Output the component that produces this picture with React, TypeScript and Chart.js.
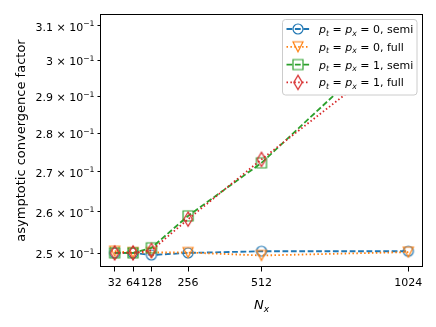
import React, { useEffect, useRef } from "react";
import { Chart, registerables } from "chart.js";

Chart.register(...registerables);

// ---------- data ----------
const nxLabels = ["32", "64", "128", "256", "512", "1024"];
const nxPositions = [0, 64, 128, 256, 512, 1024];
const semiP0 = [0.2501, 0.2501, 0.2496, 0.2501, 0.2505, 0.2505];
const fullP0 = [0.2505, 0.2502, 0.2502, 0.2502, 0.2495, 0.2503];
const semiP1 = [0.2501, 0.2501, 0.2513, 0.259, 0.2723, 0.3099];
const fullP1 = [0.2501, 0.2501, 0.2507, 0.2582, 0.2732, 0.3042];
const seriesLabels = [
  "p_t = p_x = 0, semi",
  "p_t = p_x = 0, full",
  "p_t = p_x = 1, semi",
  "p_t = p_x = 1, full",
];
const yTicks = [0.25, 0.26, 0.27, 0.28, 0.29, 0.3, 0.31];
const yTickMantissas = ["2.5", "2.6", "2.7", "2.8", "2.9", "3", "3.1"];
const yTickExponent = "−1";
const yTitle = "asymptotic convergence factor";
const xTitle = "N_x";

// ---------- styles ----------
const FONT = "'DejaVu Sans', 'Liberation Sans', sans-serif";
const colors = ["#1f77b4", "#ff7f0e", "#2ca02c", "#d62728"];
const shapes = ["circle", "triDown", "square", "thinDiamond"];
const dashes = [
  [5.8, 2.6],
  [1.5, 2.4],
  [5.8, 2.6],
  [1.5, 2.4],
];

function makeMarker(shape: string, color: string): HTMLCanvasElement {
  const c = document.createElement("canvas");
  const lw = 1.2;
  let w = 14;
  let h = 14;
  if (shape === "thinDiamond") {
    w = 12;
    h = 18;
  }
  c.width = w;
  c.height = h;
  const ctx = c.getContext("2d")!;
  ctx.strokeStyle = color;
  ctx.lineWidth = lw;
  ctx.lineJoin = "miter";
  const cx = w / 2;
  const cy = h / 2;
  ctx.beginPath();
  if (shape === "circle") {
    ctx.arc(cx, cy, 5, 0, Math.PI * 2);
  } else if (shape === "square") {
    ctx.rect(cx - 5, cy - 5, 10, 10);
  } else if (shape === "triDown") {
    ctx.moveTo(cx, cy + 5);
    ctx.lineTo(cx - 5, cy - 5);
    ctx.lineTo(cx + 5, cy - 5);
    ctx.closePath();
  } else {
    const hh = 7.07;
    const hw = 0.6 * 7.07;
    ctx.moveTo(cx, cy - hh);
    ctx.lineTo(cx + hw, cy);
    ctx.lineTo(cx, cy + hh);
    ctx.lineTo(cx - hw, cy);
    ctx.closePath();
  }
  ctx.stroke();
  return c;
}

type Seg = { t: string; it?: boolean; sub?: boolean; sup?: boolean };

function parseMath(s: string): Seg[] {
  const segs: Seg[] = [];
  const re = /([A-Za-z])_([A-Za-z0-9])/g;
  let last = 0;
  let m: RegExpExecArray | null;
  while ((m = re.exec(s)) !== null) {
    if (m.index > last) segs.push({ t: s.slice(last, m.index) });
    segs.push({ t: m[1], it: true });
    segs.push({ t: m[2], it: true, sub: true });
    last = m.index + m[0].length;
  }
  if (last < s.length) segs.push({ t: s.slice(last) });
  return segs;
}

function segFont(s: Seg, size: number) {
  const fs = s.sub || s.sup ? size * 0.7 : size;
  return `${s.it ? "italic " : ""}${fs}px ${FONT}`;
}

function measureRich(ctx: CanvasRenderingContext2D, segs: Seg[], size: number) {
  let w = 0;
  for (const s of segs) {
    ctx.font = segFont(s, size);
    w += ctx.measureText(s.t).width;
  }
  return w;
}

function drawRich(
  ctx: CanvasRenderingContext2D,
  segs: Seg[],
  x: number,
  y: number,
  size: number
) {
  let cx = x;
  for (const s of segs) {
    ctx.font = segFont(s, size);
    const dy = s.sub ? size * 0.24 : s.sup ? -size * 0.42 : 0;
    ctx.fillText(s.t, cx, y + dy);
    cx += ctx.measureText(s.t).width;
  }
}

export default function App() {
  const ref = useRef<HTMLCanvasElement | null>(null);

  useEffect(() => {
    if (!ref.current) return;
    const markers = shapes.map((s, i) => makeMarker(s, colors[i]));
    const series = [semiP0, fullP0, semiP1, fullP1];

    const overlay = {
      id: "overlay",
      afterDatasetsDraw(chart: any) {
        const ctx: CanvasRenderingContext2D = chart.ctx;
        const a = chart.chartArea;
        ctx.save();
        // frame
        ctx.strokeStyle = "#000";
        ctx.lineWidth = 1;
        ctx.setLineDash([]);
        ctx.strokeRect(
          Math.round(a.left) + 0.5,
          Math.round(a.top) + 0.5,
          Math.round(a.right - a.left) - 1,
          Math.round(a.bottom - a.top) - 1
        );

        // y tick labels (mantissa × 10^exponent)
        const yScale = chart.scales.y;
        ctx.fillStyle = "#000";
        ctx.textAlign = "left";
        ctx.textBaseline = "alphabetic";
        for (let i = 0; i < yTicks.length; i++) {
          const py = yScale.getPixelForValue(yTicks[i]);
          const segs: Seg[] = [
            { t: yTickMantissas[i] + " × 10" },
            { t: yTickExponent, sup: true },
          ];
          const w = measureRich(ctx, segs, 11);
          drawRich(ctx, segs, a.left - 5.5 - w, py + 5, 11);
        }

        // legend
        const bx = 282.5;
        const by = 19.5;
        const bw = 134.5;
        const bh = 75.5;
        const r = 3;
        ctx.beginPath();
        ctx.moveTo(bx + r, by);
        ctx.lineTo(bx + bw - r, by);
        ctx.quadraticCurveTo(bx + bw, by, bx + bw, by + r);
        ctx.lineTo(bx + bw, by + bh - r);
        ctx.quadraticCurveTo(bx + bw, by + bh, bx + bw - r, by + bh);
        ctx.lineTo(bx + r, by + bh);
        ctx.quadraticCurveTo(bx, by + bh, bx, by + bh - r);
        ctx.lineTo(bx, by + r);
        ctx.quadraticCurveTo(bx, by, bx + r, by);
        ctx.closePath();
        ctx.fillStyle = "rgba(255,255,255,1)";
        ctx.fill();
        ctx.strokeStyle = "#cccccc";
        ctx.lineWidth = 1;
        ctx.stroke();

        for (let i = 0; i < seriesLabels.length; i++) {
          const ry = 29 + i * 17.8;
          ctx.beginPath();
          ctx.strokeStyle = colors[i];
          ctx.lineWidth = 1.8;
          ctx.setLineDash(dashes[i]);
          ctx.moveTo(286.5, ry);
          ctx.lineTo(309.5, ry);
          ctx.stroke();
          ctx.setLineDash([]);
          const mk = markers[i];
          ctx.drawImage(mk, 298 - mk.width / 2, ry - mk.height / 2);
          ctx.fillStyle = "#000";
          ctx.textBaseline = "alphabetic";
          ctx.textAlign = "left";
          drawRich(ctx, parseMath(seriesLabels[i]), 319, ry + 4, 11);
        }

        // x title
        const segs = parseMath(xTitle);
        const xsz = 13;
        const tw = measureRich(ctx, segs, xsz);
        ctx.fillStyle = "#000";
        ctx.textAlign = "left";
        ctx.textBaseline = "alphabetic";
        drawRich(ctx, segs, (a.left + a.right) / 2 - tw / 2, 308.5, xsz);
        ctx.restore();
      },
    };

    const chart = new Chart(ref.current, {
      type: "line",
      data: {
        datasets: series.map((vals, i) => ({
          label: seriesLabels[i],
          data: vals.map((v, j) => ({ x: nxPositions[j], y: v })),
          borderColor: colors[i],
          backgroundColor: colors[i],
          borderWidth: 1.8,
          borderDash: dashes[i],
          pointStyle: markers[i] as any,
          pointRadius: 6,
          pointHoverRadius: 6,
          tension: 0,
          fill: false,
          order: 3 - i,
        })),
      },
      plugins: [overlay],
      options: {
        animation: false,
        responsive: false,
        devicePixelRatio: 1,
        events: [],
        layout: { padding: { left: 0, top: 14, right: 13, bottom: 0 } },
        plugins: {
          legend: { display: false },
          tooltip: { enabled: false },
          title: { display: false },
        },
        scales: {
          x: {
            type: "linear",
            min: -51.2,
            max: 1075.2,
            border: { display: false },
            grid: {
              display: true,
              drawOnChartArea: false,
              drawTicks: true,
              tickLength: 4.5,
              color: "#000",
              lineWidth: 1,
            },
            afterBuildTicks: (axis: any) => {
              axis.ticks = nxPositions.map((v) => ({ value: v }));
            },
            afterFit: (scale: any) => {
              scale.height = 60;
            },
            ticks: {
              autoSkip: false,
              maxRotation: 0,
              minRotation: 0,
              padding: 5,
              color: "#000",
              font: { family: FONT, size: 11 },
              callback: (value: any) => {
                const k = nxPositions.indexOf(Number(value));
                return k >= 0 ? nxLabels[k] : "";
              },
            },
          },
          y: {
            type: "logarithmic",
            min: 0.2468,
            max: 0.3134,
            border: { display: false },
            grid: {
              display: true,
              drawOnChartArea: false,
              drawTicks: true,
              tickLength: 2.5,
              color: "#000",
              lineWidth: 1,
            },
            afterBuildTicks: (axis: any) => {
              axis.ticks = yTicks.map((v) => ({ value: v }));
            },
            afterFit: (scale: any) => {
              scale.width = 100;
            },
            title: {
              display: true,
              text: yTitle,
              color: "#000",
              font: { family: FONT, size: 13 },
              padding: { top: 14, bottom: 0 },
            },
            ticks: {
              display: false,
              autoSkip: false,
            },
          },
        },
      } as any,
    });

    return () => {
      chart.destroy();
    };
  }, []);

  return (
    <div style={{ position: "absolute", left: 0, top: 0, width: 436, height: 327, background: "#fff" }}>
      <canvas ref={ref} width={436} height={327} style={{ display: "block" }} />
    </div>
  );
}
